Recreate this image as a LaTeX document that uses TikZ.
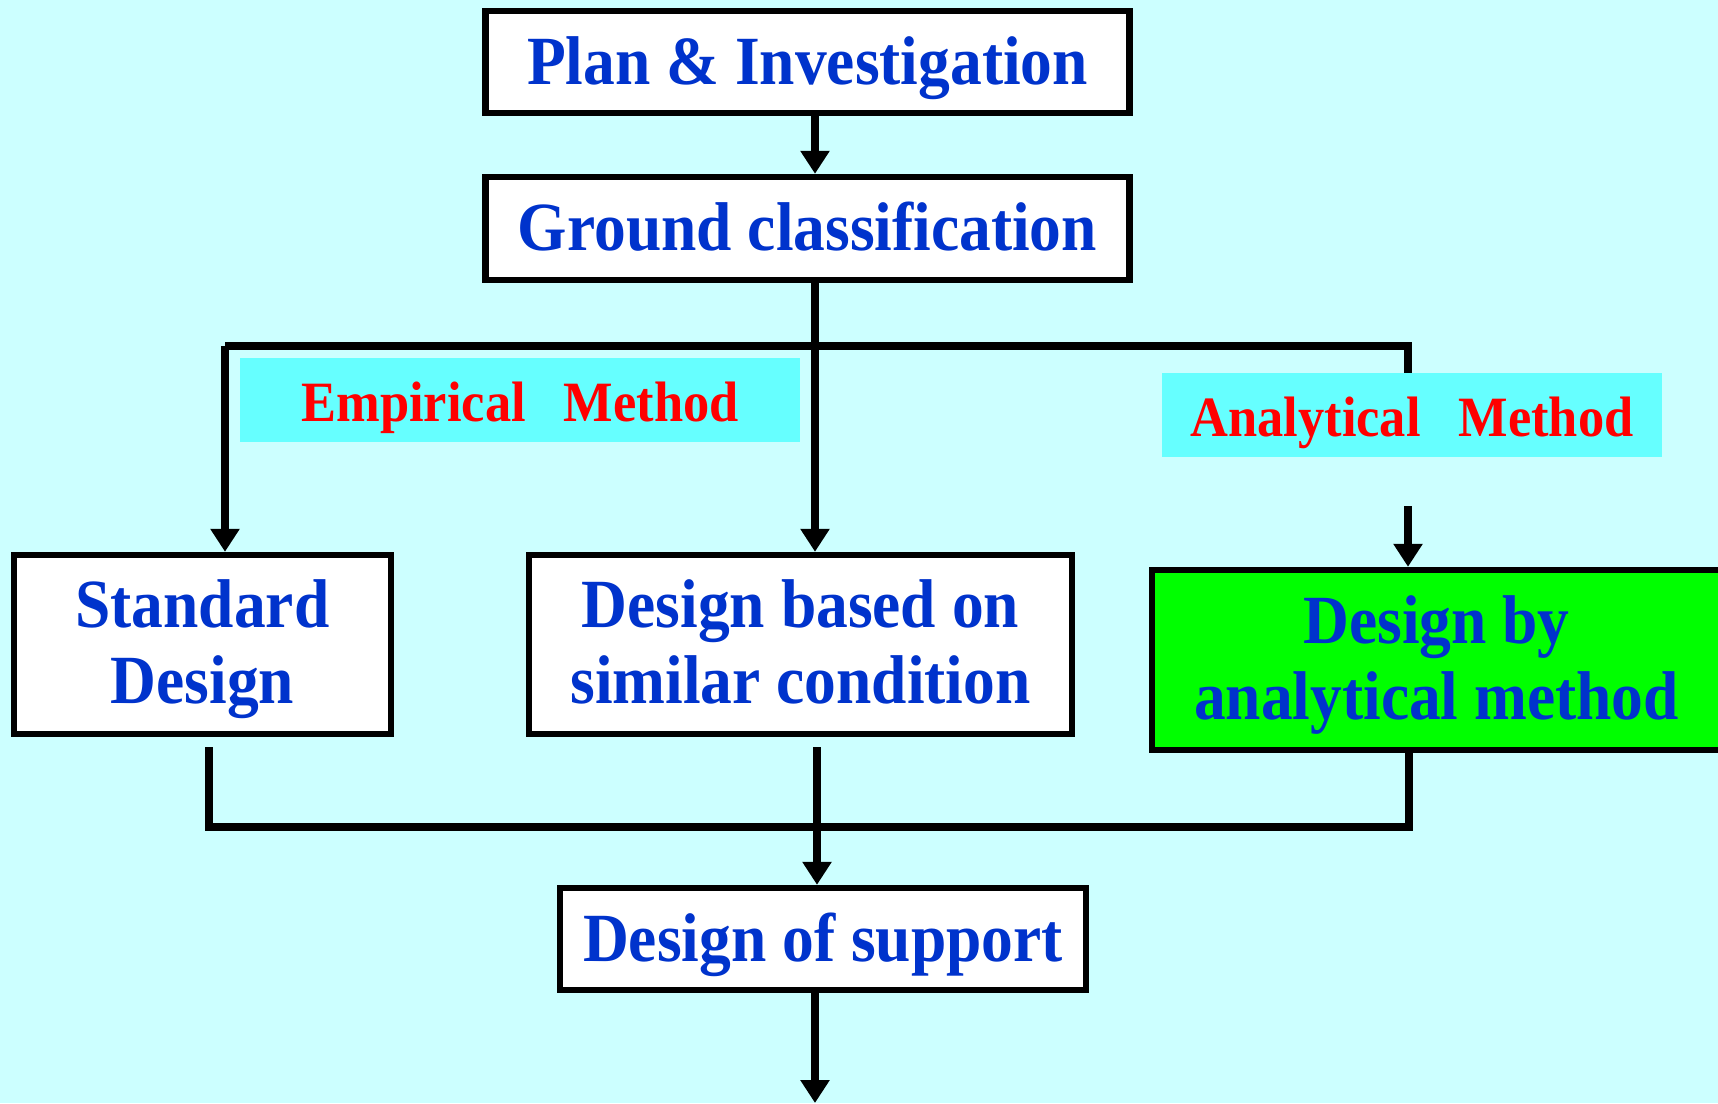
\documentclass[tikz,border=0pt]{standalone}
\usepackage{fontspec}
\setmainfont{Liberation Serif}[FakeStretch=0.92]
\usetikzlibrary{arrows.meta}
\definecolor{bg}{HTML}{CCFFFF}
\definecolor{labelbg}{HTML}{66FFFF}
\definecolor{txtblue}{HTML}{0033CC}
\definecolor{boxgreen}{HTML}{00FF00}
\newcommand{\twolines}[2]{\begin{tabular}[t]{@{}c@{}}#1\\#2\end{tabular}}
\begin{document}
\begin{tikzpicture}[x=0.5pt,y=-0.5pt,
  box/.style={draw=black, line width=3.2pt, fill=white, inner sep=0pt,
    text=txtblue, font=\bfseries\fontsize{34.5}{38}\selectfont},
  oneline/.style={text height=22pt, text depth=0pt},
  twoline/.style={text height=0pt, text depth=17pt},
  tag/.style={fill=labelbg, inner sep=0pt, text=red,
    text height=21pt, text depth=0pt,
    font=\bfseries\fontsize{28.5}{32}\selectfont},
  wire/.style={line width=4.4pt},
  flow/.style={wire, -{Triangle[length=11.5pt,width=14pt]}}]

% page and background
\useasboundingbox (0,0) rectangle (1718,1103);
\fill[bg] (0,0) rectangle (1718,1103);

% method labels
\node[tag, minimum width=280pt, minimum height=42pt] (emp) at (520,400)
  {Empirical\hspace{19pt}Method};
\node[tag, minimum width=250pt, minimum height=42pt] (anl) at (1412,415)
  {Analytical\hspace{19pt}Method};

% boxes
\node[box, oneline, minimum width=322pt, minimum height=51pt] (plan) at (807.5,62)
  {Plan \& Investigation};
\node[box, oneline, minimum width=322pt, minimum height=51.5pt] (ground) at (807.5,228.5)
  {Ground classification};
\node[box, twoline, minimum width=188.5pt, minimum height=89.5pt] (std) at (202.5,644.5)
  {\twolines{Standard}{Design}};
\node[box, twoline, minimum width=271.5pt, minimum height=89.5pt] (sim) at (800.5,644.5)
  {\twolines{Design based on}{similar condition}};
% this box runs off the right edge of the page
\node[box, twoline, fill=boxgreen, minimum width=292pt, minimum height=90pt] (ana) at (1444,660)
  {\hspace{-7.5pt}\twolines{Design by}{analytical method}};
\node[box, oneline, minimum width=263pt, minimum height=51pt] (sup) at (823,939)
  {Design of support};

% junction points
\coordinate (split) at (815,346);
\coordinate (splitL) at (225,346);
\coordinate (splitR) at (1408,346);
\coordinate (anlIn) at (1408,506);
\coordinate (stdOut) at (209,747);
\coordinate (simOut) at (817,747);
\coordinate (joinL) at (209,827);
\coordinate (joinR) at (1409,827);
\coordinate (supOut) at (815,1103);

% connectors
\draw[flow] (plan.south -| split) -- (ground.north -| split);
\draw[flow] (ground.south -| split) -- (sim.north -| split);
\draw[wire] (splitL) -- (splitR) -- (anl.north -| splitR);
\draw[flow] (splitL) -- (std.north -| splitL);
\draw[flow] (anlIn) -- (ana.north -| anlIn);
\draw[wire] (stdOut) -- (joinL) -- (joinR) -- (ana.south -| joinR);
\draw[flow] (simOut) -- (sup.north -| simOut);
\draw[flow] (sup.south -| supOut) -- (supOut);
\end{tikzpicture}
\end{document}
